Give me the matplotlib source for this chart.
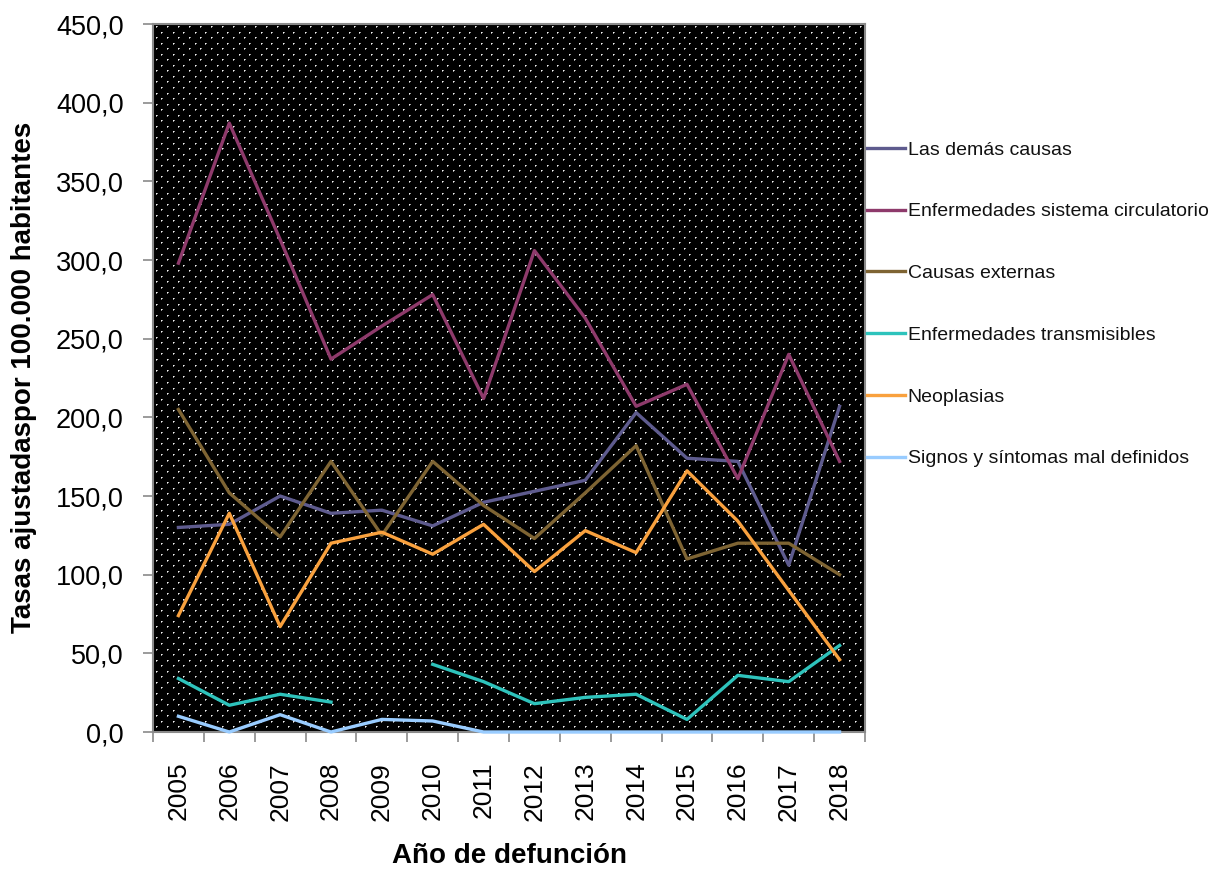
import numpy as np
import matplotlib
matplotlib.use("Agg")
import matplotlib.pyplot as plt
from matplotlib import font_manager

# ---------------- data ----------------
years = ["2005", "2006", "2007", "2008", "2009", "2010", "2011",
         "2012", "2013", "2014", "2015", "2016", "2017", "2018"]
demas_causas = [130, 132, 150, 139, 141, 131, 146, 153, 160, 203, 174, 172, 106, 207]
circulatorio = [298, 387, 313, 237, 258, 278, 212, 306, 263, 207, 221, 161, 240, 172]
externas = [205, 152, 124, 172, 125, 172, 144, 123, 152, 182, 110, 120, 120, 100]
transmisibles = [34, 17, 24, 19, np.nan, 43, 32, 18, 22, 24, 8, 36, 32, 55]
neoplasias = [74, 139, 67, 120, 127, 113, 132, 102, 128, 114, 166, 134, 90, 46]
signos = [10, 0, 11, 0, 8, 7, 0, 0, 0, 0, 0, 0, 0, 0]

series_names = ["Las demás causas", "Enfermedades sistema circulatorio",
                "Causas externas", "Enfermedades transmisibles",
                "Neoplasias", "Signos y síntomas mal definidos"]
series_values = [demas_causas, circulatorio, externas, transmisibles, neoplasias, signos]
series_colors = ["#5E5B8E", "#8E3A6B", "#7E6433", "#2EC3BC", "#F9A13E", "#99CCFF"]

y_ticks = [0, 50, 100, 150, 200, 250, 300, 350, 400, 450]


def has_font(name):
    try:
        font_manager.findfont(font_manager.FontProperties(family=name),
                              fallback_to_default=False)
        return True
    except Exception:
        return False


base_font = "Liberation Sans" if has_font("Liberation Sans") else "DejaVu Sans"
narrow_font = "Liberation Sans Narrow" if has_font("Liberation Sans Narrow") else None
plt.rcParams["font.family"] = [base_font, "DejaVu Sans"]

W, H = 1218, 871
fig = plt.figure(figsize=(W / 100, H / 100), dpi=100)
left, right, top, bottom = 153, 865, 24, 732
ax = fig.add_axes([left / W, 1 - bottom / H, (right - left) / W, (bottom - top) / H])

# dotted black background pattern (style only)
pw, ph = right - left, bottom - top
pattern = np.zeros((ph, pw, 3))
row = 0
yy = 3.0
while yy < ph - 1:
    off = 0 if row % 2 == 0 else 5.5
    xx = 3 + off
    while xx < pw - 1:
        iy, ix = int(round(yy)), int(round(xx))
        pattern[iy, ix] = 0.95
        pattern[iy, ix + 1] = 0.6
        pattern[iy + 1, ix] = 0.6
        xx += 11
    yy += 5.55
    row += 1
ax.set_facecolor("black")
ax.imshow(pattern, extent=(0, 1, 0, 1), transform=ax.transAxes,
          aspect="auto", interpolation="nearest", zorder=0)

x = np.arange(len(years))
for name, vals, col in zip(series_names, series_values, series_colors):
    ax.plot(x, vals, color=col, lw=2.4, label=name, clip_on=False, zorder=3)

ax.set_xlim(-0.5, len(years) - 0.5)
ax.set_ylim(0, 450)

# y axis
ax.set_yticks(y_ticks)
ax.set_yticklabels([f"{v:.1f}".replace(".", ",") for v in y_ticks])
ax.tick_params(axis="y", direction="out", length=7.5, width=1.2, color="#8a8a8a",
               pad=13.5, labelsize=19.5)

# x axis: boundary ticks, labels at centers
ax.set_xticks(np.arange(-0.5, len(years), 1.0))
ax.set_xticklabels([])
ax.set_xticks(x, minor=True)
ax.set_xticklabels(years, minor=True, rotation=90)
ax.tick_params(axis="x", which="major", direction="out", length=7.5, width=1.2,
               color="#8a8a8a")
ax.tick_params(axis="x", which="minor", length=0, pad=21.5, labelsize=19)
if narrow_font:
    for lab in ax.get_xticklabels(minor=True):
        lab.set_family([narrow_font, base_font])
        lab.set_fontsize(24)

for sp in ax.spines.values():
    sp.set_color("#8a8a8a")
    sp.set_linewidth(1.5)

# axis titles
fig.text(24 / W, 1 - 377 / H, "Tasas ajustadaspor 100.000 habitantes",
         rotation=90, ha="center", va="center", fontsize=20, fontweight="bold")
fig.text(510 / W, 1 - 856 / H, "Año de defunción",
         ha="center", va="center", fontsize=20, fontweight="bold")

# legend
leg = fig.legend(loc="upper left", bbox_to_anchor=(867 / W, 1 - 141 / H),
                 frameon=False, fontsize=14, handlelength=1.95,
                 handletextpad=0.15, labelspacing=2.27, borderpad=0,
                 borderaxespad=0)
for t in leg.get_texts():
    t.set_color("#111111")

fig.savefig("out.png", dpi=100, facecolor="white")
